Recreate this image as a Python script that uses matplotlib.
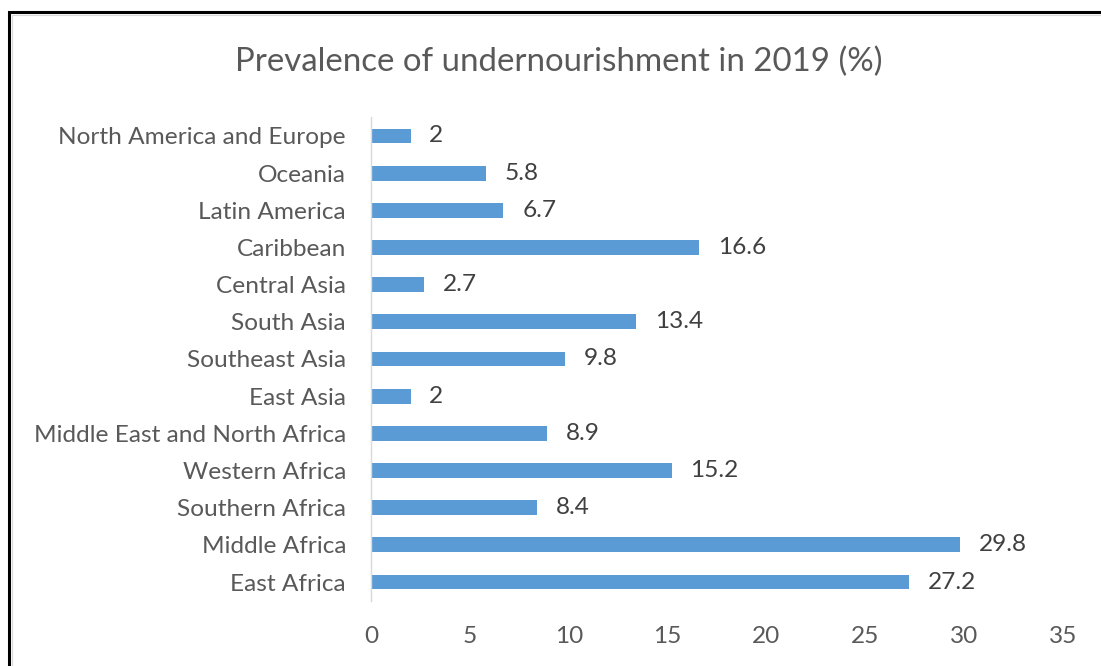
import matplotlib
matplotlib.use("Agg")
import matplotlib.pyplot as plt
from matplotlib.patches import Rectangle

categories = ["North America and Europe", "Oceania", "Latin America", "Caribbean",
              "Central Asia", "South Asia", "Southeast Asia", "East Asia",
              "Middle East and North Africa", "Western Africa", "Southern Africa",
              "Middle Africa", "East Africa"]
values = [2, 5.8, 6.7, 16.6, 2.7, 13.4, 9.8, 2, 8.9, 15.2, 8.4, 29.8, 27.2]
xticks = [0, 5, 10, 15, 20, 25, 30, 35]

plt.rcParams['font.family'] = ['Lato', 'DejaVu Sans']
W, H = 1101, 666
fig = plt.figure(figsize=(W/100, H/100), dpi=100)
ax = fig.add_axes([371/W, 1-600.6/H, (1063-371)/W, (600.6-117.4)/H])

n = len(categories)
ypos = list(range(n))
ax.barh(ypos, values, height=0.4, color='#5B9BD5')
ax.set_ylim(n - 0.5, -0.5)
ax.set_xlim(0, 35)
ax.set_yticks(ypos)
ax.set_yticklabels(categories, fontsize=17.6, color='#595959')
ax.set_xticks(xticks)
ax.set_xticklabels([str(t) for t in xticks], fontsize=17.6, color='#595959')
ax.tick_params(axis='y', length=0, pad=18)
ax.tick_params(axis='x', length=0, pad=18)
for s in ['top', 'right', 'bottom']:
    ax.spines[s].set_visible(False)
ax.spines['left'].set_color('#D9D9D9')
ax.spines['left'].set_linewidth(1)

for y, v in zip(ypos, values):
    ax.annotate(f"{v:g}", xy=(v, y), xytext=(13.5, 0), textcoords='offset points',
                va='center', ha='left', fontsize=17.6, color='#404040')

fig.text(559/W, 1-62/H, "Prevalence of undernourishment in 2019 (%)", ha='center', va='center',
         fontsize=23.8, color='#595959')

# outer border
fig.patches.append(Rectangle((9/W, -0.1), 1.2, 1 - 12/H + 0.1, transform=fig.transFigure,
                             fill=False, edgecolor='black', linewidth=2.2))
fig.patches.append(Rectangle((11.5/W, -0.1), 1.2, 1 - 14.5/H + 0.1, transform=fig.transFigure,
                             fill=False, edgecolor='#D9D9D9', linewidth=0.8))

fig.savefig("out.png", dpi=100)
